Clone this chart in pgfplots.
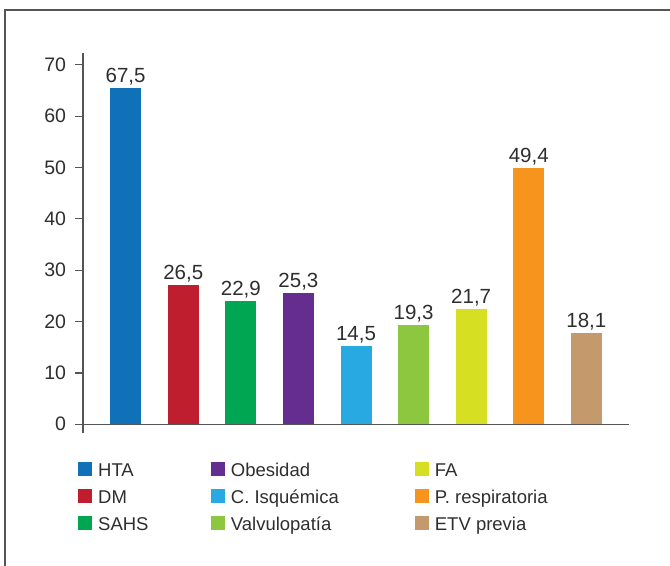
\documentclass[border=0pt]{standalone}
\usepackage{pgfplots}
\pgfplotsset{compat=1.18}
\usepackage{fontspec}
\setmainfont{Liberation Sans}
\definecolor{cHTA}{HTML}{1071B9}
\definecolor{cDM}{HTML}{BE1E2D}
\definecolor{cSAHS}{HTML}{00A651}
\definecolor{cOB}{HTML}{662D91}
\definecolor{cCI}{HTML}{29A9E1}
\definecolor{cVA}{HTML}{8DC63F}
\definecolor{cFA}{HTML}{D7DF23}
\definecolor{cPR}{HTML}{F7941D}
\definecolor{cETV}{HTML}{C49A6C}
\definecolor{txt}{HTML}{2E2E2E}
\definecolor{axc}{HTML}{555555}
\pgfplotsset{
  mybar/.style={ybar, bar width=31bp, bar shift=0pt, draw=none, fill=#1,
    legend image code/.code={\fill[fill=#1] (0bp,0bp) rectangle (14bp,14.5bp);}},
}
\begin{document}
\begin{tikzpicture}
\useasboundingbox (0bp,0bp) rectangle (670bp,566bp);
\draw[line width=1.1bp, color=axc] (5bp,0bp) -- (5bp,556bp) -- (670bp,556bp);
\begin{axis}[
  at={(83bp,133.5bp)}, anchor=south west,
  scale only axis, width=546bp, height=379.5bp,
  xmin=-0.74, xmax=8.74, ymin=-1.6, ymax=72.3,
  axis y line*=left, axis x line*=middle,
  x axis line style={-}, y axis line style={-},
  axis line style={color=axc, line width=1.2bp},
  xtick=\empty, ytick={0,10,...,70},
  tick align=outside, major tick length=8bp,
  tick style={color=axc, line width=1.2bp},
  yticklabel style={font=\fontsize{19.5bp}{22bp}\selectfont, text=txt, xshift=-5.5bp},
  /pgf/number format/assume math mode=true,
  every node near coord/.append style={font=\fontsize{20.5bp}{23bp}\selectfont, text=txt, anchor=south, yshift=-1bp},
  legend columns=3, legend transposed=true,
  legend style={at={(-0.00916,-0.0764)}, anchor=north west, draw=none, fill=none,
    inner sep=0pt, row sep=8.5bp,
    nodes={inner sep=0pt, text height=14.5bp, text depth=4bp},
    cells={anchor=base west},
    font=\fontsize{18.5bp}{21bp}\selectfont, text=txt,
    /tikz/every odd column/.append style={column sep=6bp}},
]
\addplot[mybar=cHTA, nodes near coords={67,5}] coordinates {(0,65.5)};
\addlegendentry{\makebox[112.7bp][l]{HTA}}
\addplot[mybar=cDM, nodes near coords={26,5}] coordinates {(1,27.1)};
\addlegendentry{\makebox[112.7bp][l]{DM}}
\addplot[mybar=cSAHS, nodes near coords={22,9}] coordinates {(2,24.0)};
\addlegendentry{\makebox[112.7bp][l]{SAHS}}
\addplot[mybar=cOB, nodes near coords={25,3}] coordinates {(3,25.6)};
\addlegendentry{\makebox[184bp][l]{Obesidad}}
\addplot[mybar=cCI, nodes near coords={14,5}] coordinates {(4,15.25)};
\addlegendentry{\makebox[184bp][l]{C. Isquémica}}
\addplot[mybar=cVA, nodes near coords={19,3}] coordinates {(5,19.35)};
\addlegendentry{\makebox[184bp][l]{Valvulopatía}}
\addplot[mybar=cFA, nodes near coords={21,7}] coordinates {(6,22.45)};
\addlegendentry{FA}
\addplot[mybar=cPR, nodes near coords={49,4}] coordinates {(7,49.9)};
\addlegendentry{P. respiratoria}
\addplot[mybar=cETV, nodes near coords={18,1}] coordinates {(8,17.8)};
\addlegendentry{ETV previa}
\end{axis}
\end{tikzpicture}
\end{document}
